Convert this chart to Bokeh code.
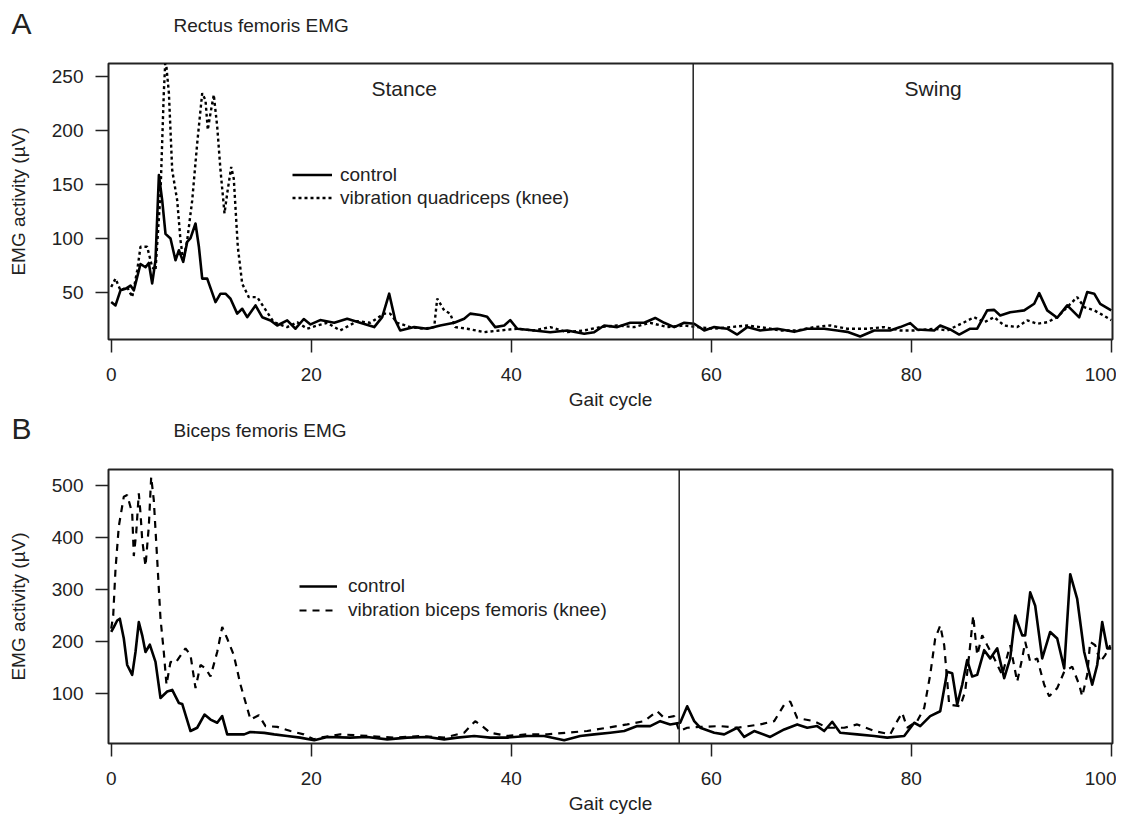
from bokeh.plotting import figure
from bokeh.models import Range1d, Label, Legend, LegendItem, Span
from bokeh.layouts import column
from bokeh.embed import file_html
from bokeh.resources import INLINE

# ---------------- data ----------------
gait_ticks = [0, 20, 40, 60, 80, 100]
a_yticks = [50, 100, 150, 200, 250]
b_yticks = [100, 200, 300, 400, 500]
stance_end_a = 58.2
stance_end_b = 56.8

a_ctrl_x = [0, 0.43, 0.93, 1.43, 1.93, 2.26, 2.6, 2.93, 3.43, 3.76, 4.1, 4.43, 4.77, 5.1, 5.43, 5.93,
            6.43, 6.77, 7.2, 7.6, 7.93, 8.43, 8.77, 9.1, 9.6, 10.43, 10.93, 11.43, 11.93, 12.6, 13.1,
            13.6, 14.43, 15.1, 15.93, 16.6, 17.6, 18.43, 19.26, 19.93, 20.9, 22.3, 23.6, 24.9, 26.3,
            27.1, 27.8, 28.4, 28.9, 30.3, 31.6, 32.9, 34.3, 35.3, 35.9, 36.9, 37.6, 38.4, 39.3, 39.9,
            40.6, 42.3, 43.9, 45.6, 47.3, 48.3, 49.3, 50.6, 51.9, 53.3, 54.4, 55.3, 56.3, 57.3, 58.3,
            59.3, 60.3, 61.6, 62.6, 63.6, 64.9, 66.6, 68.3, 69.6, 71.3, 72.6, 73.6, 74.9, 76.3, 77.9,
            78.9, 79.9, 80.6, 82.3, 82.9, 83.9, 84.8, 85.9, 86.6, 87.6, 88.3, 88.9, 89.9, 91.3, 92.3,
            92.8, 93.6, 94.6, 95.6, 96.8, 97.6, 98.3, 98.9, 100]
a_ctrl_y = [40.7, 37.6, 51.6, 53, 56, 51.6, 64, 76, 73, 77, 58, 79.5, 158.6, 135, 104, 99.7,
            79.5, 88.8, 78, 96.5, 100, 113.6, 92, 62.5, 62.5, 40.7, 48.5, 48.5, 43.8, 30, 34.5,
            26.7, 37.6, 26.7, 23.7, 19, 23.7, 16, 25, 20, 24, 21.5, 25.3, 21.5, 17.5,
            26.7, 48.5, 24, 14.4, 17.5, 16, 19, 21.5, 25.3, 30, 28.7, 27, 17.5, 19, 24,
            16, 14.4, 12.8, 14.4, 11.3, 12.8, 19, 17.5, 21.5, 21.5, 26, 21.5, 17.5, 21.5, 20.6,
            14.4, 17.5, 16, 10.6, 17.5, 14.4, 16, 13.1, 16, 16, 14.4, 13.1, 8.8, 14.4, 14.4,
            17.5, 21.2, 15.3, 14.4, 19, 15.3, 10.6, 16, 16, 33, 33.5, 28.3, 31.3, 33, 39.2,
            49, 33, 26.2, 37.7, 26.5, 50, 48.5, 39, 33]

a_vib_x = [0, 0.43, 0.93, 1.6, 2.1, 2.6, 2.93, 3.6, 4.1, 4.43, 4.93, 5.26, 5.43, 5.77, 6.1, 6.6,
           6.93, 7.2, 7.6, 8.1, 8.6, 9.1, 9.43, 9.66, 9.93, 10.26, 10.6, 10.93, 11.33, 11.6, 12.0,
           12.26, 12.66, 13.1, 13.76, 14.6, 15.26, 16.26, 17.6, 18.6, 19.6, 20.6, 21.6, 22.9, 24.6,
           25.9, 27.3, 27.9, 28.6, 29.9, 31.3, 32.3, 32.6, 33.3, 33.9, 34.4, 35.6, 37.3, 38.9, 40.6,
           42.3, 43.9, 45.6, 47.3, 48.9, 50.6, 52.3, 53.9, 55.6, 57.3, 58.6, 60.3, 61.9, 63.6, 64.9,
           66.9, 68.6, 70.3, 71.9, 73.6, 75.6, 77.3, 78.9, 80.3, 82.3, 83.6, 85.3, 86.3, 87.3, 88.3,
           89.3, 90.6, 91.6, 92.6, 93.6, 94.6, 95.6, 96.6, 97.3, 98.3, 98.9, 100]
a_vib_y = [54.7, 62.5, 51.6, 54.7, 45.3, 70, 92, 92, 73, 70, 141.5, 234.5, 268, 234.5, 163, 135,
           98, 79.5, 98, 135, 188, 234.5, 228, 200.4, 216, 233, 203.5, 163, 123, 141.5, 166,
           155, 92, 57.8, 45.3, 45.3, 36, 22, 17.5, 22, 16, 19, 21.5, 14.4, 23,
           21.5, 30, 30, 21.5, 17.5, 16, 17.5, 44, 33, 30, 17.5, 16, 12.8, 14.4, 16,
           14.4, 17.5, 12.8, 14.4, 17.5, 19, 17.5, 21.5, 17.5, 19, 17.5, 16, 17.5, 19, 17.5,
           14.4, 14.4, 17.5, 19, 16, 16, 17.5, 14.4, 14.4, 16, 14.4, 22, 26.7, 22, 26.7,
           19, 17.5, 23.7, 20.6, 22, 26.7, 36, 45.3, 36, 33, 30, 24]

b_ctrl_x = [0, 0.26, 0.6, 0.86, 1.26, 1.6, 2.1, 2.43, 2.76, 3.1, 3.43, 3.86, 4.43, 4.93, 5.6, 6.1,
            6.76, 7.1, 7.93, 8.6, 9.33, 9.93, 10.6, 11.1, 11.6, 13.3, 13.9, 15.3, 16.3, 17.6, 18.9,
            20.3, 21.6, 23.9, 25.6, 27.6, 29.6, 31.6, 33.3, 34.6, 36.3, 37.9, 39.6, 41.6, 43.3, 45.3,
            46.9, 48.3, 49.9, 51.3, 52.6, 53.9, 54.9, 55.9, 56.9, 57.6, 58.3, 58.9, 60.3, 61.3, 62.6,
            63.3, 64.3, 65.9, 67.3, 68.6, 69.6, 70.6, 71.3, 72.1, 72.9, 74.6, 76.3, 77.6, 79.3, 80.3,
            80.9, 81.9, 82.9, 83.6, 84.1, 84.6, 85.1, 85.6, 86.1, 86.6, 87.3, 87.9, 88.6, 89.3, 89.9,
            90.4, 91.1, 91.4, 91.9, 92.4, 93.1, 93.9, 94.6, 95.3, 95.9, 96.6, 97.3, 98.1, 98.6, 99.1,
            99.6, 100]
b_ctrl_y = [217.5, 227, 239.6, 243, 205, 154, 135, 179, 236.5, 211, 179, 193, 160, 90.5, 103, 106,
            81, 79, 27, 33.3, 58.7, 49, 43, 55.6, 20.6, 20.6, 25, 23.5, 20.6, 17.5, 14.3,
            9.2, 15.5, 14.3, 15.5, 11, 14.3, 15.5, 11, 14.3, 17.5, 14.3, 14.3, 17.5, 17.5, 9.2,
            17.5, 20.6, 23.8, 27, 36.5, 36.5, 46, 39.7, 42.9, 74.6, 46, 33.3, 23.8, 20.6, 33.3,
            15.6, 27, 15.6, 30, 39.7, 33.3, 36.5, 27, 44.8, 23.8, 20.6, 17.5, 14.3, 17.5, 42.9,
            36.5, 55.6, 65, 141, 138, 77.7, 116, 163.5, 131.8, 135, 182.5, 166.7, 186, 128.6, 166.7,
            249, 211, 211, 293.7, 268, 166.7, 217.5, 205, 147.6, 328.6, 281, 179, 116, 154, 236.5,
            186, 186]

b_vib_x = [0, 0.2, 0.43, 0.76, 1.26, 1.6, 2.1, 2.26, 2.5, 2.76, 2.93, 3.1, 3.43, 3.76, 4.0, 4.26,
           4.6, 4.93, 5.26, 5.53, 5.93, 6.43, 7.43, 7.93, 8.43, 8.93, 9.43, 9.93, 10.6, 11.1, 11.6,
           12.26, 12.93, 13.93, 14.76, 15.43, 16.6, 17.93, 19.26, 20.26, 20.9, 22.9, 25.6, 28.3,
           30.9, 33.3, 35.3, 36.4, 37.1, 37.9, 39.6, 41.6, 43.6, 45.6, 47.6, 49.6, 51.6, 53.3, 54.6,
           55.3, 56.3, 56.8, 57.6, 58.9, 60.9, 62.6, 64.9, 66.3, 67.3, 67.9, 68.6, 70.3, 71.6, 73.3,
           74.6, 76.3, 77.9, 78.6, 79.1, 79.6, 80.6, 81.3, 81.9, 82.4, 82.9, 83.3, 83.8, 84.9, 85.4,
           85.9, 86.2, 86.6, 87.1, 87.6, 88.3, 89.1, 89.9, 90.6, 91.1, 91.4, 91.9, 92.6, 93.3, 93.8,
           94.6, 95.3, 96.1, 96.8, 97.1, 97.6, 97.9, 98.4, 98.9, 99.4, 99.9]
b_vib_y = [224, 249, 338, 420.6, 477.7, 481, 446, 363.5, 408, 484, 446, 395, 344, 420.6, 515.8, 471,
           357, 243, 179, 116, 160, 158, 186, 173, 109.5, 154, 147.6, 131.8, 179, 227, 205,
           173, 116, 49, 57.5, 36.5, 35, 27, 20.6, 11, 14.3, 20.6, 17.5, 14.3,
           17.5, 14.3, 23.8, 46, 36.5, 23.8, 17.5, 20.6, 20.6, 23.8, 27, 33.3, 39.7, 46, 65,
           52, 55.6, 27, 33.3, 35, 36.5, 33.3, 39.7, 46, 77.7, 84, 52, 46, 33.3, 33.3,
           39.7, 27, 20.6, 46, 62, 33.3, 46, 71.4, 135, 205, 230, 192, 77.7, 74.6, 103,
           192, 249, 173, 211, 192, 166.7, 135, 192, 122, 166.7, 198.5, 160, 166.7, 116, 93.7,
           109.5, 141, 150.8, 116, 93.7, 135, 198.5, 192, 160, 173, 192]

# ---------------- style ----------------
FONT = "Liberation Sans"
INK = "#222222"
W = 1116


def style(p, yticks):
    p.outline_line_color = INK
    p.outline_line_width = 2
    p.outline_line_alpha = 1
    p.xgrid.visible = False
    p.ygrid.visible = False
    p.xaxis.ticker = gait_ticks
    p.yaxis.ticker = yticks
    for ax in (p.xaxis[0], p.yaxis[0]):
        ax.axis_line_color = None
        ax.major_tick_in = 0
        ax.major_tick_out = 13
        ax.major_tick_line_color = INK
        ax.major_tick_line_width = 1.5
        ax.minor_tick_in = 0
        ax.minor_tick_out = 0
        ax.major_label_text_font = FONT
        ax.major_label_text_font_size = "19px"
        ax.major_label_text_color = INK
        ax.axis_label_text_font = FONT
        ax.axis_label_text_font_size = "19px"
        ax.axis_label_text_font_style = "normal"
        ax.axis_label_text_color = INK
    p.xaxis.axis_label = "Gait cycle"
    p.yaxis.axis_label = "EMG activity (\u00b5V)"
    p.xaxis.major_label_standoff = 15
    p.xaxis.axis_label_standoff = 5
    p.yaxis.major_label_standoff = 12
    p.yaxis.axis_label_standoff = 20


def txt(p, x, y, s, size, align="left"):
    p.add_layout(Label(x=x, y=y, text=s, text_font=FONT, text_font_size=size,
                       text_color=INK, text_align=align, text_baseline="middle"))


def header(h, letter, title, ly, ty):
    hp = figure(width=W, height=h, output_backend="svg", toolbar_location=None,
                x_range=Range1d(0, W), y_range=Range1d(0, h),
                x_axis_type=None, y_axis_type=None, frame_align=False,
                min_border_left=0, min_border_right=0, min_border_top=0, min_border_bottom=0)
    hp.outline_line_color = None
    hp.grid.visible = False
    txt(hp, 11, ly, letter, "30px")
    txt(hp, 173, ty, title, "19px")
    return hp


# ---------------- panel A ----------------
headA = header(45, "A", "Rectus femoris EMG", 22, 20)

pA = figure(width=W, height=367, output_backend="svg", toolbar_location=None,
            x_range=Range1d(-0.27, 100.13), y_range=Range1d(6, 262),
            min_border_left=108, min_border_right=4, min_border_top=18, min_border_bottom=73)
style(pA, a_yticks)
rA1 = pA.line(a_ctrl_x, a_ctrl_y, line_color="black", line_width=2.6, line_join="round")
rA2 = pA.line(a_vib_x, a_vib_y, line_color="black", line_width=2.4, line_dash="3 3")
pA.add_layout(Span(location=stance_end_a, dimension="height", line_color=INK, line_width=1.5))
txt(pA, 29.3, 239, "Stance", "21px", "center")
txt(pA, 82.2, 239, "Swing", "21px", "center")
legA = Legend(items=[LegendItem(label="control", renderers=[rA1]),
                     LegendItem(label="vibration quadriceps (knee)", renderers=[rA2])],
              location=(184, 130), padding=0, margin=0, spacing=0,
              glyph_width=40, glyph_height=23, label_height=23, label_standoff=8,
              label_text_font=FONT, label_text_font_size="19px", label_text_color=INK,
              background_fill_alpha=0, border_line_alpha=0)
pA.add_layout(legA, "center")

# ---------------- panel B ----------------
headB = header(38, "B", "Biceps femoris EMG", 22, 20)

pB = figure(width=W, height=366, output_backend="svg", toolbar_location=None,
            x_range=Range1d(-0.27, 100.13), y_range=Range1d(3, 530),
            min_border_left=108, min_border_right=4, min_border_top=19, min_border_bottom=71)
style(pB, b_yticks)
rB1 = pB.line(b_ctrl_x, b_ctrl_y, line_color="black", line_width=2.6, line_join="round")
rB2 = pB.line(b_vib_x, b_vib_y, line_color="black", line_width=2.2, line_dash="7 6")
pB.add_layout(Span(location=stance_end_b, dimension="height", line_color=INK, line_width=1.5))
legB = Legend(items=[LegendItem(label="control", renderers=[rB1]),
                     LegendItem(label="vibration biceps femoris (knee)", renderers=[rB2])],
              location=(191, 121), padding=0, margin=0, spacing=0,
              glyph_width=38, glyph_height=24, label_height=24, label_standoff=11,
              label_text_font=FONT, label_text_font_size="19px", label_text_color=INK,
              background_fill_alpha=0, border_line_alpha=0)
pB.add_layout(legB, "center")

layout = column(headA, pA, headB, pB, spacing=0)
open("out.html", "w").write(file_html(layout, INLINE))
